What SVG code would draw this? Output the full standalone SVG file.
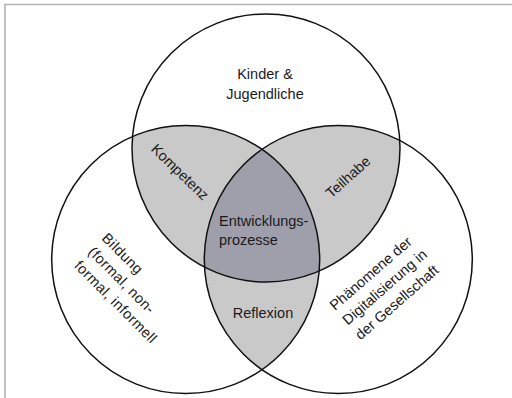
<svg xmlns="http://www.w3.org/2000/svg" width="512" height="398" viewBox="0 0 512 398">
<style>
.c{fill:none;stroke:#111;stroke-width:1.5}
.t{font-family:"Liberation Sans",Arial,sans-serif;font-size:14.5px;fill:#1a1a1a}
.m{text-anchor:middle}
.lens{fill:#c9c9c9}
.core{fill:#9e9fab}
</style>
<defs>
<clipPath id="cT"><circle cx="266" cy="148" r="134"/></clipPath>
<clipPath id="cL"><circle cx="185.7" cy="259.5" r="134"/></clipPath>
<clipPath id="cR"><circle cx="338.3" cy="259.5" r="134"/></clipPath>
</defs>
<rect width="512" height="398" fill="#fff"/>
<g id="frame" stroke="#b5b5b5" stroke-width="1.6" fill="none">
<line x1="4" y1="4.5" x2="512" y2="4.5"/>
<line x1="5" y1="4" x2="5" y2="398"/>
</g>
<g id="overlaps">
<g clip-path="url(#cT)"><circle class="lens" cx="185.7" cy="259.5" r="134"/></g>
<g clip-path="url(#cT)"><circle class="lens" cx="338.3" cy="259.5" r="134"/></g>
<g clip-path="url(#cL)"><circle class="lens" cx="338.3" cy="259.5" r="134"/></g>
<g clip-path="url(#cT)"><g clip-path="url(#cL)"><circle class="core" cx="338.3" cy="259.5" r="134"/></g></g>
</g>
<g id="kinder">
<circle class="c" cx="266" cy="148" r="134"/>
<text class="t m" x="265" y="79">Kinder &amp;</text>
<text class="t m" x="265" y="98.5">Jugendliche</text>
</g>
<g id="bildung">
<circle class="c" cx="185.7" cy="259.5" r="134"/>
<g transform="translate(101,239) rotate(45)" style="letter-spacing:0.4px">
<text class="t" x="0" y="0">Bildung</text>
<text class="t" x="0" y="19.5">(formal, non-</text>
<text class="t" x="0" y="39">formal, informell</text>
</g>
</g>
<g id="digitalisierung">
<circle class="c" cx="338.3" cy="259.5" r="134"/>
<g transform="translate(335,311) rotate(-41)">
<text class="t" x="0" y="0">Phänomene der</text>
<text class="t" x="0" y="19.5">Digitalisierung in</text>
<text class="t" x="0" y="39">der Gesellschaft</text>
</g>
</g>
<g id="kompetenz"><text class="t m" transform="translate(180,172) rotate(44)" y="5">Kompetenz</text></g>
<g id="teilhabe"><text class="t m" transform="translate(348,177) rotate(-42)" y="5">Teilhabe</text></g>
<g id="reflexion"><text class="t m" x="263" y="318">Reflexion</text></g>
<g id="entwicklung">
<text class="t" x="219" y="226">Entwicklungs-</text>
<text class="t" x="219" y="245">prozesse</text>
</g>
<g id="connectors"/>
</svg>
